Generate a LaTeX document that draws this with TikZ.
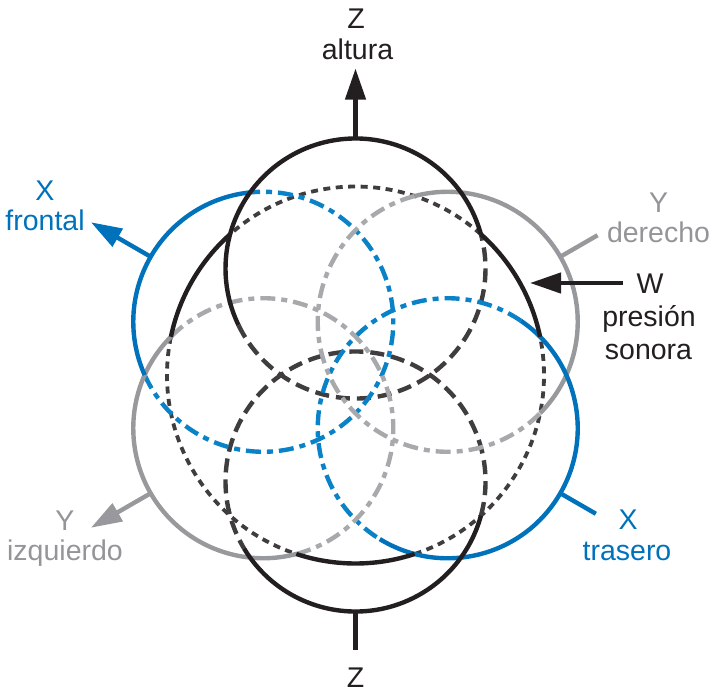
\documentclass[tikz,border=0pt]{standalone}
\usepackage{fontspec}
\setmainfont{Liberation Sans}
\usetikzlibrary{arrows.meta}
\definecolor{ink}{HTML}{231F20}
\definecolor{inkd}{HTML}{3F3D3E}
\definecolor{xblue}{HTML}{0072BC}
\definecolor{xblued}{HTML}{0A82C8}
\definecolor{ygray}{HTML}{98999C}
\definecolor{ygrayd}{HTML}{A7A9AC}
\definecolor{ytext}{HTML}{939598}
\newcommand\carc[5]{\draw[#5] ([shift={(#2:#4)}]#1) arc[start angle=#2,end angle=#3,radius=#4];}
\begin{document}
\begin{tikzpicture}[x=1pt,y=1pt,
  solidk/.style={draw=ink,line width=4.4pt},
  wdot/.style={draw=inkd,line width=3.8pt,dash pattern=on 7pt off 5.5pt},
  zdash/.style={draw=inkd,line width=4.4pt,dash pattern=on 14pt off 7pt},
  solidx/.style={draw=xblue,line width=4.4pt},
  xdash/.style={draw=xblued,line width=4.4pt,dash pattern=on 15pt off 6pt on 6pt off 6pt},
  solidy/.style={draw=ygray,line width=4.4pt},
  ydash/.style={draw=ygrayd,line width=4.4pt,dash pattern=on 15pt off 6pt on 6pt off 6pt},
  lab/.style={anchor=base,inner sep=0pt,font=\fontsize{28.5}{32}\selectfont},
  arr/.style={line width=4.4pt,-{Triangle[length=31pt,width=20pt]}},
]
\useasboundingbox (0,0) rectangle (713,-697);
% centres
\coordinate (O)  at (355.5,-375);
\coordinate (Zu) at (355.5,-268.5);
\coordinate (Zl) at (355.5,-481.5);
\coordinate (Xf) at (263.27,-321.75);
\coordinate (Xb) at (447.73,-428.25);
\coordinate (Yr) at (447.73,-321.75);
\coordinate (Yl) at (263.27,-428.25);
% hidden parts
\carc{O}{48.3}{131.7}{188.5}{wdot}
\carc{O}{168.3}{251.7}{188.5}{wdot}
\carc{O}{288.3}{371.7}{188.5}{wdot}
\carc{Zu}{205.8}{375.28}{130}{zdash}
\carc{Zl}{344.72}{571}{130}{zdash}
\carc{Xf}{204.18}{455.82}{130}{xdash}
\carc{Xb}{55.7}{238.5}{130}{xdash}
\carc{Yr}{104.72}{315.28}{130}{ydash}
\carc{Yl}{284.72}{495.28}{130}{ydash}
% visible parts
\carc{Yr}{-44.72}{104.72}{130}{solidy}
\carc{Yl}{135.28}{284.72}{130}{solidy}
\carc{Xf}{95.82}{204.18}{130}{solidx}
\carc{Xb}{238.5}{415.7}{130}{solidx}
\carc{Zu}{15.28}{205.8}{130}{solidk}
\carc{Zl}{211}{344.72}{130}{solidk}
\carc{O}{131.7}{168.3}{188.5}{solidk}
\carc{O}{11.7}{48.3}{188.5}{solidk}
\carc{O}{251.7}{288.3}{188.5}{solidk}
% connector ends
\coordinate (zuTop) at ([shift={(90:130)}]Zu);
\coordinate (zTip)  at (355.5,-68.5);
\coordinate (zlBot) at ([shift={(270:130)}]Zl);
\coordinate (zEnd)  at (355.5,-650);
\coordinate (xfA) at ([shift={(150:130)}]Xf);
\coordinate (xfT) at ([shift={(150:199)}]Xf);
\coordinate (ylA) at ([shift={(210:130)}]Yl);
\coordinate (ylT) at ([shift={(210:199)}]Yl);
\coordinate (yrA) at ([shift={(30:130)}]Yr);
\coordinate (yrT) at ([shift={(30:173)}]Yr);
\coordinate (xbA) at ([shift={(330:130)}]Xb);
\coordinate (xbT) at ([shift={(330:171)}]Xb);
\coordinate (wT)   at (623,-283);
\coordinate (wTip) at (530,-283);
\draw[arr,color=ink] (zuTop) -- (zTip);
\draw[solidk] (zlBot) -- (zEnd);
\draw[arr,color=xblue] (xfA) -- (xfT);
\draw[arr,color=ygray] (ylA) -- (ylT);
\draw[solidy] (yrA) -- (yrT);
\draw[solidx] (xbA) -- (xbT);
\draw[arr,color=ink] (wT) -- (wTip);
% labels
\node[lab,text=ink] (zt1) at (356,-28) {Z};
\node[lab,text=ink] (zt2) at (357.5,-59) {altura};
\node[lab,text=ink] (zb) at (355.5,-687) {Z};
\node[lab,text=xblue] (xf1) at (45,-200) {X};
\node[lab,text=xblue] (xf2) at (45,-230) {frontal};
\node[lab,text=ytext] (yl1) at (65,-530) {Y};
\node[lab,text=ytext] (yl2) at (65,-560) {izquierdo};
\node[lab,text=ytext] (yr1) at (658.5,-212) {Y};
\node[lab,text=ytext] (yr2) at (658.5,-242) {derecho};
\node[lab,text=ink] (w1) at (650,-293) {W};
\node[lab,text=ink] (w2) at (649,-326) {presión};
\node[lab,text=ink] (w3) at (648.5,-359) {sonora};
\node[lab,text=xblue] (xb1) at (628,-529) {X};
\node[lab,text=xblue] (xb2) at (627,-560) {trasero};
\end{tikzpicture}
\end{document}
